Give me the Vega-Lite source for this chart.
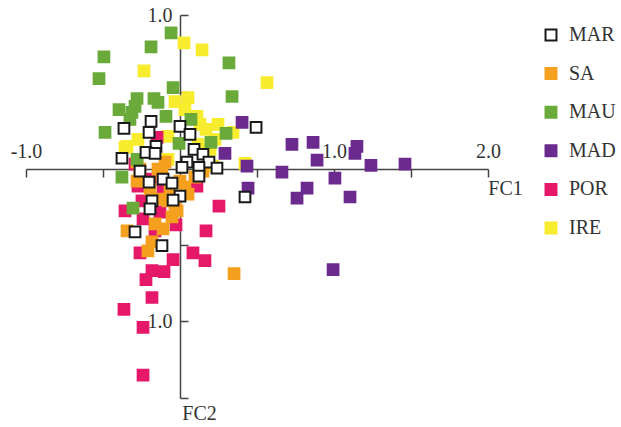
{
  "$schema": "https://vega.github.io/schema/vega-lite/v6.json",
  "width": 462,
  "height": 383,
  "autosize": {"type": "none"},
  "padding": {"left": 26, "top": 15, "right": 133, "bottom": 29},
  "background": "white",
  "config": {"view": {"stroke": null}, "font": "Liberation Serif"},
  "data": {"values": [
    {"g":"IRE","x":0.026,"y":0.818},{"g":"IRE","x":0.143,"y":0.773},{"g":"IRE","x":-0.234,"y":0.636},{"g":"IRE","x":0.565,"y":0.558},
    {"g":"IRE","x":0.052,"y":0.461},{"g":"IRE","x":0.032,"y":0.383},{"g":"IRE","x":0.110,"y":0.338},{"g":"IRE","x":0.169,"y":0.253},
    {"g":"IRE","x":0.344,"y":0.234},{"g":"IRE","x":-0.344,"y":0.143},{"g":"IRE","x":0.195,"y":0.123},{"g":"IRE","x":0.422,"y":0.032},
    {"g":"IRE","x":0.130,"y":0.286},{"g":"IRE","x":-0.032,"y":0.435},{"g":"IRE","x":0.247,"y":0.286},{"g":"IRE","x":0.117,"y":0.156},
    {"g":"IRE","x":-0.078,"y":0.208},{"g":"IRE","x":-0.273,"y":0.188},{"g":"IRE","x":-0.357,"y":0.136},{"g":"IRE","x":-0.078,"y":0.058},
    {"g":"IRE","x":0.214,"y":0.013},{"g":"IRE","x":0.227,"y":0.188},
    {"g":"POR","x":-0.357,"y":-0.279},{"g":"POR","x":0.253,"y":-0.247},{"g":"POR","x":-0.240,"y":-0.331},{"g":"POR","x":-0.130,"y":-0.286},
    {"g":"POR","x":-0.026,"y":-0.370},{"g":"POR","x":0.169,"y":-0.409},{"g":"POR","x":-0.260,"y":-0.552},{"g":"POR","x":0.084,"y":-0.552},
    {"g":"POR","x":0.162,"y":-0.604},{"g":"POR","x":-0.045,"y":-0.597},{"g":"POR","x":-0.182,"y":-0.669},{"g":"POR","x":-0.104,"y":-0.675},
    {"g":"POR","x":-0.221,"y":-0.727},{"g":"POR","x":-0.182,"y":-0.844},{"g":"POR","x":-0.364,"y":-0.922},{"g":"POR","x":-0.240,"y":-1.039},
    {"g":"POR","x":-0.240,"y":-1.351},{"g":"POR","x":-0.162,"y":-0.409},{"g":"POR","x":-0.149,"y":0.201},{"g":"POR","x":-0.273,"y":-0.117},
    {"g":"POR","x":-0.247,"y":-0.214},{"g":"POR","x":-0.117,"y":-0.201},{"g":"POR","x":-0.110,"y":-0.123},{"g":"POR","x":0.110,"y":-0.117},
    {"g":"POR","x":-0.292,"y":0.026},{"g":"POR","x":-0.195,"y":-0.071},
    {"g":"SA","x":-0.279,"y":0.039},{"g":"SA","x":-0.279,"y":-0.084},{"g":"SA","x":-0.117,"y":-0.039},{"g":"SA","x":-0.097,"y":0.039},
    {"g":"SA","x":0.000,"y":-0.084},{"g":"SA","x":0.032,"y":-0.123},{"g":"SA","x":-0.078,"y":-0.214},{"g":"SA","x":-0.032,"y":-0.234},
    {"g":"SA","x":-0.052,"y":-0.318},{"g":"SA","x":-0.019,"y":-0.279},{"g":"SA","x":-0.344,"y":-0.409},{"g":"SA","x":-0.162,"y":-0.364},
    {"g":"SA","x":-0.182,"y":-0.481},{"g":"SA","x":-0.208,"y":-0.539},{"g":"SA","x":0.351,"y":-0.688},{"g":"SA","x":-0.195,"y":-0.136},
    {"g":"SA","x":-0.130,"y":-0.201},{"g":"SA","x":0.097,"y":-0.058},{"g":"SA","x":-0.260,"y":-0.006},{"g":"SA","x":-0.065,"y":-0.136},
    {"g":"SA","x":0.149,"y":-0.019},{"g":"SA","x":-0.143,"y":-0.006},{"g":"SA","x":0.052,"y":-0.169},{"g":"SA","x":-0.110,"y":-0.396},
    {"g":"MAU","x":-0.058,"y":0.883},{"g":"MAU","x":-0.188,"y":0.792},{"g":"MAU","x":-0.494,"y":0.727},{"g":"MAU","x":-0.526,"y":0.584},
    {"g":"MAU","x":0.318,"y":0.688},{"g":"MAU","x":-0.045,"y":0.526},{"g":"MAU","x":0.338,"y":0.468},{"g":"MAU","x":-0.169,"y":0.455},
    {"g":"MAU","x":-0.279,"y":0.455},{"g":"MAU","x":-0.292,"y":0.403},{"g":"MAU","x":-0.312,"y":0.364},{"g":"MAU","x":-0.396,"y":0.383},
    {"g":"MAU","x":-0.091,"y":0.338},{"g":"MAU","x":0.071,"y":0.318},{"g":"MAU","x":-0.487,"y":0.234},{"g":"MAU","x":0.299,"y":0.227},
    {"g":"MAU","x":0.201,"y":0.169},{"g":"MAU","x":-0.006,"y":0.162},{"g":"MAU","x":-0.377,"y":-0.058},{"g":"MAU","x":-0.305,"y":-0.260},
    {"g":"MAU","x":-0.279,"y":0.058},{"g":"MAU","x":-0.325,"y":0.318},{"g":"MAU","x":-0.143,"y":0.429},
    {"g":"MAD","x":0.403,"y":0.299},{"g":"MAD","x":0.292,"y":0.097},{"g":"MAD","x":0.435,"y":0.013},{"g":"MAD","x":0.727,"y":0.156},
    {"g":"MAD","x":0.864,"y":0.169},{"g":"MAD","x":0.890,"y":0.052},{"g":"MAD","x":1.149,"y":0.143},{"g":"MAD","x":1.136,"y":0.097},
    {"g":"MAD","x":1.240,"y":0.019},{"g":"MAD","x":1.461,"y":0.026},{"g":"MAD","x":0.662,"y":-0.026},{"g":"MAD","x":1.006,"y":-0.065},
    {"g":"MAD","x":0.825,"y":-0.130},{"g":"MAD","x":0.760,"y":-0.195},{"g":"MAD","x":1.104,"y":-0.188},{"g":"MAD","x":0.442,"y":-0.130},
    {"g":"MAD","x":0.994,"y":-0.662},
    {"g":"MAR","x":-0.188,"y":0.305},{"g":"MAR","x":-0.364,"y":0.260},{"g":"MAR","x":-0.201,"y":0.234},{"g":"MAR","x":0.000,"y":0.273},
    {"g":"MAR","x":0.065,"y":0.221},{"g":"MAR","x":0.494,"y":0.266},{"g":"MAR","x":-0.156,"y":0.143},{"g":"MAR","x":-0.221,"y":0.104},
    {"g":"MAR","x":-0.162,"y":0.097},{"g":"MAR","x":-0.377,"y":0.065},{"g":"MAR","x":0.091,"y":0.123},{"g":"MAR","x":0.149,"y":0.091},
    {"g":"MAR","x":0.188,"y":0.039},{"g":"MAR","x":0.240,"y":0.000},{"g":"MAR","x":0.045,"y":0.039},{"g":"MAR","x":0.013,"y":0.006},
    {"g":"MAR","x":0.123,"y":0.006},{"g":"MAR","x":-0.260,"y":-0.019},{"g":"MAR","x":0.123,"y":-0.052},{"g":"MAR","x":-0.201,"y":-0.091},
    {"g":"MAR","x":-0.110,"y":-0.071},{"g":"MAR","x":-0.052,"y":-0.097},{"g":"MAR","x":0.000,"y":-0.182},{"g":"MAR","x":-0.045,"y":-0.208},
    {"g":"MAR","x":-0.182,"y":-0.214},{"g":"MAR","x":0.422,"y":-0.188},{"g":"MAR","x":-0.195,"y":-0.266},{"g":"MAR","x":-0.292,"y":-0.416},
    {"g":"MAR","x":-0.117,"y":-0.506}
  ]},
  "mark": {"type": "square", "size": 115, "strokeWidth": 2, "opacity": 1},
  "encoding": {
    "x": {"field": "x", "type": "quantitative",
      "scale": {"domain": [-1, 2], "nice": false, "zero": false},
      "axis": {"title": "FC1", "orient": "bottom", "offset": -229, "grid": false,
        "values": [-1, -0.5, 0.5, 1, 1.5, 2],
        "labelExpr": "datum.value % 1 === 0 ? (datum.value < 0 ? '-' : '') + format(abs(datum.value), '.1f') : ''",
        "tickSize": 8, "labelPadding": -20, "labelBaseline": "alphabetic", "labelFlush": false, "labelOverlap": false,
        "domainColor": "#444", "tickColor": "#444", "domainWidth": 1.5, "tickWidth": 1.5,
        "labelFont": "Liberation Serif", "labelFontSize": 20, "labelColor": "#333",
        "titleFont": "Liberation Serif", "titleFontSize": 20, "titleFontWeight": "normal", "titleColor": "#333",
        "titleX": 479, "titleY": 19, "titleAlign": "center", "titleBaseline": "middle"}},
    "y": {"field": "y", "type": "quantitative",
      "scale": {"domain": [-1.5, 1], "nice": false, "zero": false},
      "axis": {"title": "FC2", "orient": "left", "offset": -154, "grid": false,
        "values": [1, 0.5, -0.5, -1, -1.5],
        "labelExpr": "abs(datum.value) === 1 ? '1.0' : ''",
        "tickSize": -8, "labelPadding": 16, "labelFlush": false, "labelOverlap": false,
        "domainColor": "#444", "tickColor": "#444", "domainWidth": 1.5, "tickWidth": 1.5,
        "labelFont": "Liberation Serif", "labelFontSize": 20, "labelColor": "#333",
        "titleFont": "Liberation Serif", "titleFontSize": 20, "titleFontWeight": "normal", "titleColor": "#333",
        "titleX": 19, "titleY": 398, "titleAngle": 0, "titleAlign": "center", "titleBaseline": "middle"}},
    "fill": {"field": "g", "type": "nominal",
      "scale": {"domain": ["MAR", "SA", "MAU", "MAD", "POR", "IRE"],
        "range": ["#ffffff", "#F5A01E", "#6AAA3A", "#6A2A8E", "#E5186A", "#F8EC2E"]},
      "legend": {"title": null, "orient": "none", "legendX": 515, "legendY": 10, "padding": 0,
        "symbolSize": 120, "symbolStrokeWidth": 2, "labelFont": "Liberation Serif", "labelFontSize": 20,
        "labelColor": "#333", "labelOffset": 8, "rowPadding": 18.6}},
    "stroke": {"field": "g", "type": "nominal",
      "scale": {"domain": ["MAR", "SA", "MAU", "MAD", "POR", "IRE"],
        "range": ["#1a1a1a", "#F5A01E", "#6AAA3A", "#6A2A8E", "#E5186A", "#F8EC2E"]},
      "legend": {"title": null, "orient": "none", "legendX": 515, "legendY": 10, "padding": 0,
        "symbolSize": 120, "symbolStrokeWidth": 2, "labelFont": "Liberation Serif", "labelFontSize": 20,
        "labelColor": "#333", "labelOffset": 8, "rowPadding": 18.6}}
  }
}
